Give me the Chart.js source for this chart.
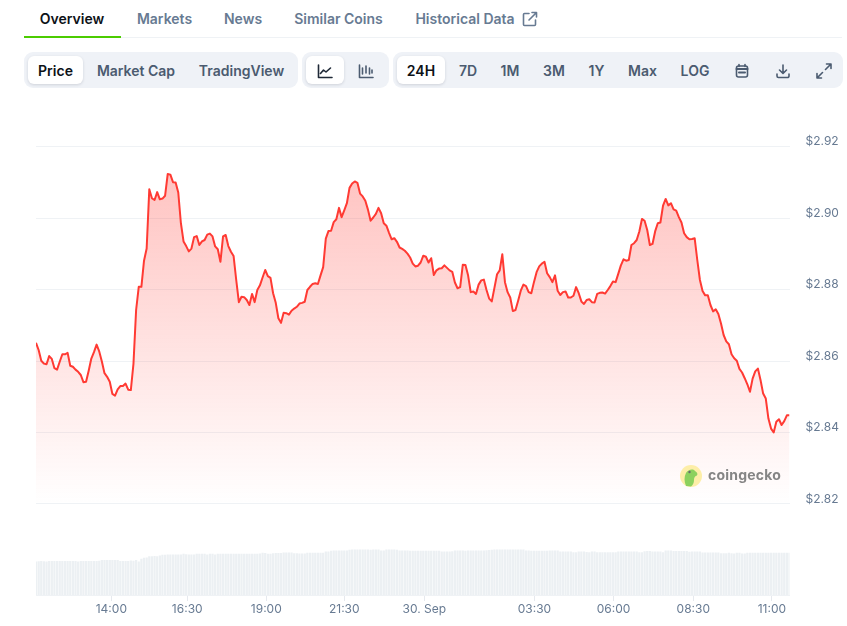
<!DOCTYPE html>
<html>
<head>
<meta charset="utf-8">
<title>Price chart</title>
<script src="https://cdn.jsdelivr.net/npm/chart.js@4"></script>
<style>
  html, body { margin: 0; padding: 0; background: #fff; }
  body { width: 847px; height: 626px; position: relative; overflow: hidden; font-family: Inter, sans-serif; }
  .t { position: absolute; white-space: nowrap; font-size: 14px; font-weight: 600; line-height: 20px; transform: translateX(-50%); color: #4b5b70; }
  .tab { top: 9px; color: #677a92; }
  .box { position: absolute; top: 52px; height: 36px; background: #eff2f7; border-radius: 9px; }
  .on { position: absolute; top: 56px; height: 28px; background: #fff; border-radius: 6px; box-shadow: 0 1px 3px rgba(16,24,40,.14); }
  svg { position: absolute; fill: none; stroke: currentColor; stroke-width: 1.6; stroke-linecap: round; stroke-linejoin: round; }
  canvas { position: absolute; left: 0; top: 100px; }
</style>
</head>
<body>
<div style="position:absolute;left:24px;right:5px;top:37px;height:1px;background:#eff2f5"></div>
<div style="position:absolute;left:24px;width:97px;top:36px;height:2px;background:#4bcc00"></div>
<span class="t tab" style="left:72px;color:#0d1217">Overview</span>
<span class="t tab" style="left:164.5px">Markets</span>
<span class="t tab" style="left:243px">News</span>
<span class="t tab" style="left:338.5px">Similar Coins</span>
<span class="t tab" style="left:465px">Historical Data</span>
<svg style="left:522px;top:11px;color:#677a92" width="16" height="16" viewBox="0 0 16 16"><path d="M7 2.5H2.5a1 1 0 0 0-1 1V13.500a1 1 0 0 0 1 1h10a1 1 0 0 0 1-1V9M7 9l7.500-7.500M10 1.500h4.500V6"/></svg>

<div class="box" style="left:24px;width:274px"></div>
<div class="box" style="left:302px;width:87px"></div>
<div class="box" style="left:393px;width:450px"></div>
<div class="on" style="left:28px;width:55px"></div>
<div class="on" style="left:306px;width:38px"></div>
<div class="on" style="left:397px;width:48px"></div>

<span class="t" style="left:55.500px;top:61px;color:#0d1217">Price</span>
<span class="t" style="left:136px;top:61px">Market Cap</span>
<span class="t" style="left:241.500px;top:61px">TradingView</span>
<span class="t" style="left:421px;top:61px;color:#0d1217">24H</span>
<span class="t" style="left:468px;top:61px">7D</span>
<span class="t" style="left:510px;top:61px">1M</span>
<span class="t" style="left:554px;top:61px">3M</span>
<span class="t" style="left:596.500px;top:61px">1Y</span>
<span class="t" style="left:642.500px;top:61px">Max</span>
<span class="t" style="left:695px;top:61px">LOG</span>

<svg style="left:317px;top:63px;color:#1f2937" width="16" height="16" viewBox="0 0 16 16"><path d="M1.500 2v12.500H15M3.500 10.500l3-3.500 2.500 2 4.500-4"/></svg>
<svg style="left:358px;top:63px;color:#4b5b70" width="16" height="16" viewBox="0 0 16 16"><path d="M1.500 2v12.500H15M4.500 5v6M8 3v7M11.500 5v6M14 7v3"/></svg>
<svg style="left:734px;top:63px;color:#4b5b70" width="16" height="16" viewBox="0 0 16 16"><rect x="2.500" y="3" width="11" height="11" rx="2"/><path d="M5 1.500v2M11 1.500v2" /><path d="M2.500 6h11M5 9.500h6" stroke-width="2"/></svg>
<svg style="left:775px;top:63px;color:#4b5b70" width="16" height="16" viewBox="0 0 16 16"><path d="M8 2v8M4.500 7L8 10.500 11.500 7M2 11v2a1.500 1.500 0 0 0 1.500 1.500h9A1.500 1.500 0 0 0 14 13v-2"/></svg>
<svg style="left:816px;top:63px;color:#4b5b70" width="16" height="16" viewBox="0 0 16 16"><path d="M9.500 6.500L15 1M10.500 1H15v4.500M6.500 9.500L1 15M1 10.500V15h4.500"/></svg>

<canvas id="priceChart" width="847" height="526"></canvas>

<svg style="left:680px;top:465px;stroke:none" width="22" height="22" viewBox="0 0 22 22">
  <circle cx="11" cy="11" r="11" fill="#fdeeA8"/>
  <path d="M6 21c-2-5-2-9 0-13 2-3.500 7-4.500 9-2 2 1 3 3 2 4.500-2 .5-3 2-3 4.500 0 3-1 5-3 6.500z" fill="#8cd15e"/>
  <circle cx="9.500" cy="7" r="1.200" fill="#6b6b6b"/>
</svg>
<span class="t" style="left:744.500px;top:465px;font-size:14px;font-weight:700;color:#858585;letter-spacing:.2px">coingecko</span>

<script>
const prices = [
  2.8651, 2.8631, 2.8601, 2.8593, 2.8591, 2.8614, 2.8606, 2.8580, 2.8576, 2.8598,
  2.8619, 2.8619, 2.8623, 2.8587, 2.8584, 2.8576, 2.8570, 2.8561, 2.8541, 2.8542,
  2.8573, 2.8607, 2.8625, 2.8646, 2.8627, 2.8599, 2.8566, 2.8556, 2.8542, 2.8508,
  2.8503, 2.8521, 2.8530, 2.8530, 2.8537, 2.8520, 2.8519, 2.8593, 2.8743, 2.8808,
  2.8808, 2.8881, 2.8915, 2.9081, 2.9056, 2.9051, 2.9073, 2.9053, 2.9055, 2.9063,
  2.9124, 2.9122, 2.9101, 2.9100, 2.9072, 2.8986, 2.8935, 2.8922, 2.8907, 2.8915,
  2.8947, 2.8950, 2.8925, 2.8935, 2.8939, 2.8954, 2.8957, 2.8949, 2.8921, 2.8913,
  2.8878, 2.8949, 2.8953, 2.8922, 2.8906, 2.8894, 2.8827, 2.8765, 2.8780, 2.8779,
  2.8771, 2.8757, 2.8788, 2.8765, 2.8799, 2.8812, 2.8834, 2.8855, 2.8838, 2.8833,
  2.8790, 2.8763, 2.8720, 2.8707, 2.8735, 2.8734, 2.8730, 2.8741, 2.8747, 2.8752,
  2.8761, 2.8763, 2.8766, 2.8799, 2.8808, 2.8816, 2.8818, 2.8816, 2.8840, 2.8863,
  2.8943, 2.8964, 2.8965, 2.8989, 2.8997, 2.9029, 2.9003, 2.9022, 2.9042, 2.9085,
  2.9097, 2.9103, 2.9099, 2.9069, 2.9061, 2.9049, 2.9024, 2.8993, 2.9002, 2.9012,
  2.9029, 2.9014, 2.8986, 2.8979, 2.8959, 2.8941, 2.8944, 2.8934, 2.8918, 2.8914,
  2.8909, 2.8901, 2.8890, 2.8873, 2.8865, 2.8867, 2.8876, 2.8895, 2.8892, 2.8876,
  2.8888, 2.8841, 2.8854, 2.8859, 2.8860, 2.8868, 2.8861, 2.8854, 2.8850, 2.8820,
  2.8804, 2.8807, 2.8870, 2.8869, 2.8840, 2.8793, 2.8795, 2.8788, 2.8814, 2.8826,
  2.8828, 2.8799, 2.8775, 2.8767, 2.8805, 2.8843, 2.8854, 2.8899, 2.8821, 2.8793,
  2.8778, 2.8740, 2.8743, 2.8769, 2.8797, 2.8814, 2.8810, 2.8793, 2.8790, 2.8821,
  2.8849, 2.8865, 2.8873, 2.8878, 2.8846, 2.8835, 2.8821, 2.8840, 2.8797, 2.8785,
  2.8793, 2.8795, 2.8778, 2.8778, 2.8783, 2.8807, 2.8790, 2.8767, 2.8760, 2.8771,
  2.8773, 2.8765, 2.8764, 2.8788, 2.8791, 2.8792, 2.8789, 2.8799, 2.8810, 2.8823,
  2.8821, 2.8844, 2.8868, 2.8885, 2.8881, 2.8883, 2.8925, 2.8930, 2.8939, 2.8963,
  2.8998, 2.8993, 2.8967, 2.8925, 2.8928, 2.8963, 2.8986, 2.8988, 2.9035, 2.9054,
  2.9036, 2.9042, 2.9025, 2.9021, 2.9003, 2.8988, 2.8958, 2.8947, 2.8941, 2.8942,
  2.8944, 2.8883, 2.8827, 2.8796, 2.8784, 2.8784, 2.8757, 2.8739, 2.8745, 2.8732,
  2.8705, 2.8673, 2.8655, 2.8647, 2.8619, 2.8608, 2.8601, 2.8578, 2.8568, 2.8552,
  2.8535, 2.8514, 2.8551, 2.8571, 2.8579, 2.8547, 2.8509, 2.8495, 2.8439, 2.8411,
  2.8400, 2.8430, 2.8437, 2.8421, 2.8432, 2.8448, 2.8448
];

// volume, $m
const volumes = [
  672, 674, 680, 676, 672, 678, 680, 680, 680, 678,
  680, 678, 680, 680, 682, 680, 672, 682, 680, 680,
  680, 680, 680, 680, 684, 700, 702, 702, 702, 702,
  700, 698, 682, 680, 682, 682, 690, 686, 700, 670,
  724, 744, 752, 776, 776, 780, 776, 790, 804, 804,
  810, 810, 810, 810, 810, 812, 824, 816, 810, 810,
  810, 824, 824, 824, 824, 810, 824, 824, 810, 824,
  824, 824, 824, 824, 824, 824, 824, 824, 824, 824,
  824, 824, 824, 824, 824, 830, 844, 840, 824, 824,
  834, 840, 840, 840, 850, 850, 850, 850, 834, 834,
  830, 830, 830, 844, 844, 844, 844, 844, 844, 844,
  870, 870, 885, 890, 890, 890, 890, 890, 890, 905,
  910, 910, 910, 910, 910, 912, 910, 905, 910, 910,
  910, 890, 890, 910, 910, 910, 912, 905, 890, 890,
  890, 890, 884, 884, 884, 884, 884, 884, 884, 884,
  884, 884, 884, 884, 870, 870, 870, 870, 875, 890,
  890, 890, 890, 885, 890, 890, 890, 890, 890, 890,
  890, 895, 900, 905, 910, 910, 910, 910, 912, 910,
  910, 910, 910, 910, 910, 910, 890, 890, 884, 884,
  884, 884, 884, 884, 884, 890, 890, 890, 890, 870,
  870, 870, 870, 870, 856, 856, 870, 870, 870, 862,
  856, 870, 870, 856, 856, 856, 856, 856, 856, 856,
  856, 870, 870, 870, 870, 870, 870, 870, 870, 856,
  856, 875, 878, 878, 870, 870, 870, 870, 856, 890,
  890, 890, 878, 878, 878, 878, 878, 878, 865, 870,
  870, 870, 870, 850, 850, 850, 850, 850, 850, 850,
  836, 836, 836, 844, 836, 830, 844, 844, 830, 830,
  844, 844, 844, 844, 844, 844, 844, 844, 844, 844,
  844, 844, 844, 844, 844, 844, 844
];

const timeLabels = ["14:00", "16:30", "19:00", "21:30", "30. Sep", "03:30", "06:00", "08:30", "11:00"];
const timeSlots = [28.6, 57.4, 87.4, 117.0, 147.4, 189.2, 219.2, 249.5, 279.3];
const priceTicks = [2.82, 2.84, 2.86, 2.88, 2.90, 2.92];

// gradient needs the scale, so wait until layout has run
const areaFill = function(context) {
    const chart = context.chart;
    if (!chart.chartArea) return "rgba(255,58,51,0.2)";
    const y = chart.scales.y;
    const g = chart.ctx.createLinearGradient(0, y.getPixelForValue(2.9124), 0, y.getPixelForValue(2.82));
    g.addColorStop(0, "rgba(255,58,51,0.3)");
    g.addColorStop(1, "rgba(255,58,51,0)");
    return g;
};

new Chart(document.getElementById("priceChart"), {
    type: "line",
    data: {
        datasets: [{
            type: "line",
            data: prices.map((p, i) => ({ x: i, y: p })),
            yAxisID: "y",
            borderColor: "#ff3a33",
            borderWidth: 2,
            borderJoinStyle: "round",
            pointRadius: 0,
            tension: 0,
            fill: { value: 2.82 },
            backgroundColor: areaFill,
            order: 1
        }, {
            type: "bar",
            data: volumes.map((v, i) => ({ x: i, y: v })),
            yAxisID: "yVolume",
            backgroundColor: "#ecf0f3",
            barPercentage: 0.85,
            categoryPercentage: 1,
            order: 2
        }]
    },
    options: {
        responsive: false,
        animation: false,
        layout: { padding: { left: 36, top: 20 } },
        plugins: { legend: { display: false }, tooltip: { enabled: false } },
        scales: {
            x: {
                type: "linear",
                offset: false,
                min: 0,
                max: prices.length - 1,
                afterBuildTicks: function(scale) {
                    scale.ticks = timeSlots.map(v => ({ value: v }));
                },
                afterFit: function(scale) {
                    scale.height = 31;
                    scale.paddingLeft = 0;
                    scale.paddingRight = 0;
                },
                border: { color: "#eff2f5" },
                grid: { offset: false, drawOnChartArea: false, color: "#e6e9ee", tickLength: 6 },
                ticks: {
                    autoSkip: false,
                    maxRotation: 0,
                    padding: 1,
                    color: "#677a92",
                    font: { family: "Inter", size: 12 },
                    callback: function(value) {
                        return timeLabels[timeSlots.indexOf(value)];
                    }
                }
            },
            y: {
                position: "right",
                min: 2.7945,
                max: 2.9275,
                afterBuildTicks: function(scale) {
                    scale.ticks = priceTicks.map(v => ({ value: v }));
                },
                afterFit: function(scale) {
                    scale.width = 57.5;
                    scale.paddingTop = 0;
                    scale.paddingBottom = 0;
                },
                border: { display: false },
                grid: { color: "#eff2f5", drawTicks: false },
                ticks: {
                    padding: 16,
                    labelOffset: -5,
                    color: "#677a92",
                    font: { family: "Inter", size: 12 },
                    callback: function(value) { return "$" + value.toFixed(2); }
                }
            },
            yVolume: {
                display: false,
                min: 0,
                max: 9500
            }
        }
    }
});
</script>
</body>
</html>
